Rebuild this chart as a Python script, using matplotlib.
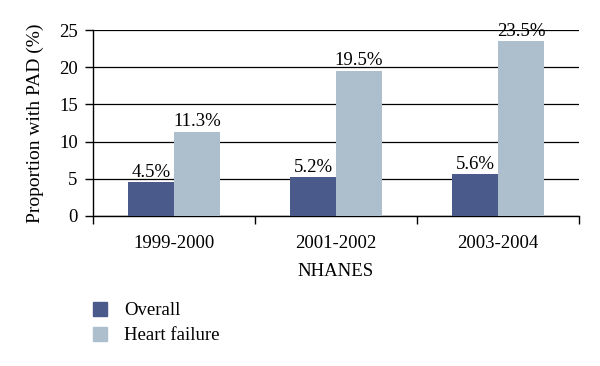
import matplotlib
matplotlib.use("Agg")
import matplotlib.pyplot as plt
import numpy as np
from matplotlib.patches import Patch

categories = ["1999-2000", "2001-2002", "2003-2004"]
overall = [4.5, 5.2, 5.6]
heart_failure = [11.3, 19.5, 23.5]
overall_labels = ["4.5%", "5.2%", "5.6%"]
hf_labels = ["11.3%", "19.5%", "23.5%"]
series_names = ["Overall", "Heart failure"]

c_dark = "#4a5b8b"
c_light = "#adbecd"

plt.rcParams['font.family'] = ['Liberation Serif', 'DejaVu Serif']
FS = 13.5

fig = plt.figure(figsize=(6, 3.66), dpi=100)
ax = fig.add_axes([0.155, 0.41, 0.81, 0.508])

x = np.arange(len(categories))
w = 0.284
ax.bar(x - w/2, overall, w, color=c_dark, zorder=3)
ax.bar(x + w/2, heart_failure, w, color=c_light, zorder=3)

for xi, v, s in zip(x, overall, overall_labels):
    ax.text(xi - w/2, v + 0.2, s, ha='center', va='bottom', fontsize=FS, zorder=4)
for xi, v, s in zip(x, heart_failure, hf_labels):
    ax.text(xi + w/2, v + 0.2, s, ha='center', va='bottom', fontsize=FS, zorder=4)

ax.set_xlim(-0.5, 2.5)
ax.set_ylim(0, 25)
ax.set_yticks([0, 5, 10, 15, 20, 25])
ax.yaxis.grid(True, color='black', linewidth=0.9, zorder=0)
ax.set_axisbelow(True)

ax.set_xticks([-0.5, 0.5, 1.5, 2.5])
ax.set_xticklabels([])
ax.set_xticks(x, minor=True)
ax.set_xticklabels(categories, minor=True)
ax.tick_params(axis='x', which='minor', length=0, pad=14, labelsize=FS)
ax.tick_params(axis='x', which='major', length=6, direction='out', width=1)
ax.tick_params(axis='y', length=6, width=1, labelsize=FS, pad=5)

for s in ['top', 'right']:
    ax.spines[s].set_visible(False)
ax.spines['left'].set_linewidth(1)
ax.spines['bottom'].set_linewidth(1)

ax.set_xlabel("NHANES", fontsize=FS, labelpad=8)
ax.set_ylabel("Proportion with PAD (%)", fontsize=14, labelpad=11)

handles = [Patch(color=c_dark), Patch(color=c_light)]
fig.legend(handles, series_names, loc='upper left', bbox_to_anchor=(0.155, 0.175),
           frameon=False, fontsize=FS, handlelength=0.75, handleheight=0.75,
           handletextpad=0.9, labelspacing=0.4, borderaxespad=0, borderpad=0)

fig.savefig("out.png", dpi=100)
